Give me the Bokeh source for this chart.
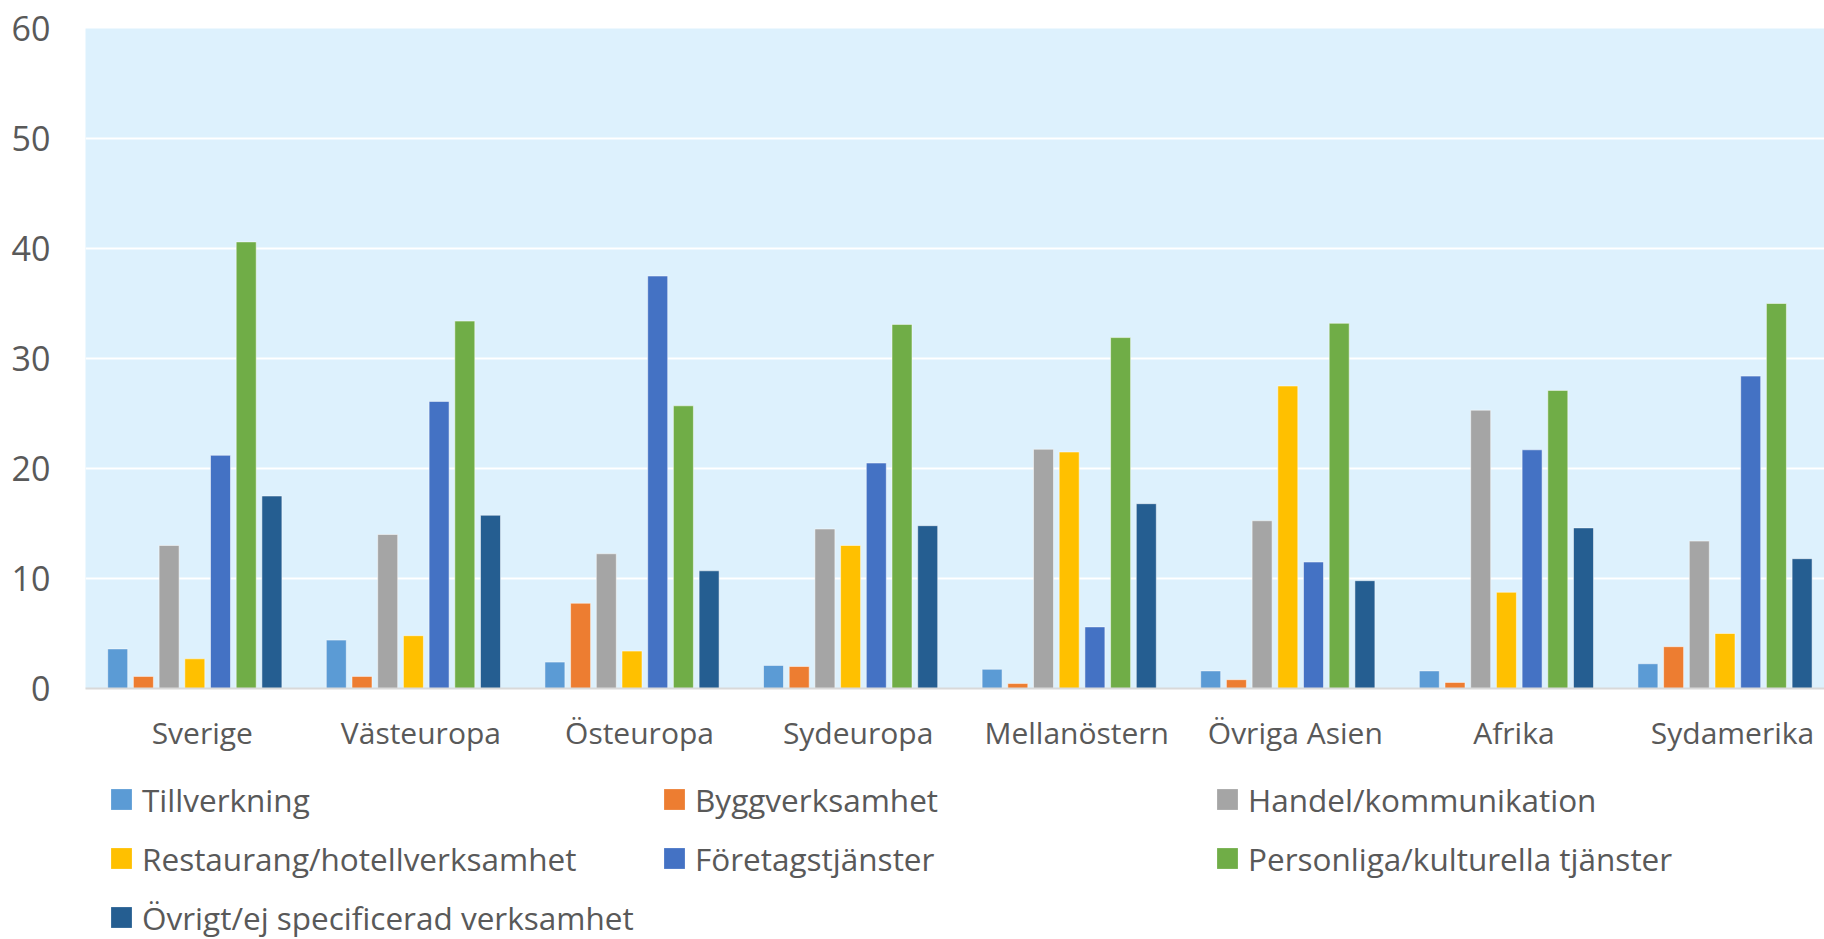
import numpy as np
from bokeh.plotting import figure
from bokeh.layouts import column
from bokeh.models import Range1d, FixedTicker, Legend, LegendItem, ColumnDataSource
from bokeh.embed import file_html
from bokeh.resources import INLINE

# ---------------- data ----------------
categories = ["Sverige", "Västeuropa", "Östeuropa", "Sydeuropa",
              "Mellanöstern", "Övriga Asien", "Afrika", "Sydamerika"]

series_names = ["Tillverkning", "Byggverksamhet", "Handel/kommunikation",
                "Restaurang/hotellverksamhet", "Företagstjänster",
                "Personliga/kulturella tjänster", "Övrigt/ej specificerad verksamhet"]

tillverkning = [3.6, 4.4, 2.4, 2.1, 1.75, 1.6, 1.6, 2.25]
byggverksamhet = [1.1, 1.1, 7.75, 2.0, 0.45, 0.8, 0.55, 3.8]
handel = [13.0, 14.0, 12.25, 14.5, 21.75, 15.25, 25.3, 13.4]
restaurang = [2.7, 4.8, 3.4, 13.0, 21.5, 27.5, 8.75, 5.0]
foretag = [21.2, 26.1, 37.5, 20.5, 5.6, 11.5, 21.7, 28.4]
personliga = [40.6, 33.4, 25.7, 33.1, 31.9, 33.2, 27.1, 35.0]
ovrigt = [17.5, 15.75, 10.7, 14.8, 16.8, 9.8, 14.6, 11.8]

y_ticks = [0, 10, 20, 30, 40, 50, 60]

colors = ["#5B9BD5", "#ED7D31", "#A5A5A5", "#FFC000", "#4472C4", "#70AD47", "#255E91"]

# ---------------- layout ----------------
W = 1824
HA, HB = 775, 164
LEFT, TOP = 85, 28
FRAME_H = 660
frame_w = W - LEFT
band_px = 218.6
bar_px = 20.0
step_px = 25.7
label_shift_px = 7.5

FONT = "Open Sans"
TXT = "#595959"

p = figure(width=W, height=HA, output_backend="svg", toolbar_location=None,
           x_range=Range1d(0, frame_w / band_px), y_range=Range1d(0, 60),
           min_border_left=LEFT, min_border_top=TOP,
           min_border_bottom=HA - TOP - FRAME_H, min_border_right=0)
p.background_fill_color = "#DDF1FD"
p.border_fill_color = "white"
p.outline_line_color = None

all_series = [tillverkning, byggverksamhet, handel, restaurang, foretag, personliga, ovrigt]
idx = np.arange(len(categories))
sources = []
for j, (name, vals) in enumerate(zip(series_names, all_series)):
    off = (j - (len(series_names) - 1) / 2) * step_px / band_px
    src = ColumnDataSource(dict(x=idx + 0.5 + off, top=vals))
    sources.append(src)
    p.vbar(x="x", top="top", width=bar_px / band_px, source=src,
           fill_color=colors[j], line_color="white", line_alpha=0.5, line_width=1)

# grid
p.xgrid.visible = False
p.ygrid.grid_line_color = "white"
p.ygrid.grid_line_width = 2
p.ygrid.ticker = FixedTicker(ticks=y_ticks)

# y axis
p.yaxis.ticker = FixedTicker(ticks=y_ticks)
p.yaxis.axis_line_color = None
p.yaxis.major_tick_line_color = None
p.yaxis.minor_tick_line_color = None
p.yaxis.major_tick_out = 0
p.yaxis.major_tick_in = 0
p.yaxis.major_label_standoff = 35
p.yaxis.major_label_text_font = FONT
p.yaxis.major_label_text_font_size = "34px"
p.yaxis.major_label_text_color = TXT

# x axis (labels sit slightly right of the bar-group centres, as in the original)
xt = [i + 0.5 + label_shift_px / band_px for i in range(len(categories))]
p.xaxis.ticker = FixedTicker(ticks=xt)
p.xaxis.major_label_overrides = {t: c for t, c in zip(xt, categories)}
p.xaxis.axis_line_color = "#D9D9D9"
p.xaxis.axis_line_width = 2
p.xaxis.major_tick_line_color = None
p.xaxis.minor_tick_line_color = None
p.xaxis.major_tick_out = 0
p.xaxis.major_tick_in = 0
p.xaxis.major_label_standoff = 23
p.xaxis.major_label_text_font = FONT
p.xaxis.major_label_text_font_size = "30px"
p.xaxis.major_label_text_color = TXT

# ---------------- legend figure ----------------
q = figure(width=W, height=HB, output_backend="svg", toolbar_location=None,
           x_range=Range1d(0, 1), y_range=Range1d(0, 1),
           x_axis_type=None, y_axis_type=None,
           min_border_left=LEFT, min_border_right=0, min_border_top=0, min_border_bottom=0)
q.outline_line_color = None
q.xgrid.visible = False
q.ygrid.visible = False
q.background_fill_color = "white"
q.border_fill_color = "white"

proxies = []
for j, name in enumerate(series_names):
    r = q.vbar(x="x", top="top", width=0.01, source=sources[j], fill_color=colors[j],
               line_color=None, visible=False)
    proxies.append(LegendItem(label=name, renderers=[r]))

LAB_H, SPACING = 44, 15
ROW1_TOP = 2
GLYPH = 26
col_x = [108, 661, 1214]
for c in range(3):
    its = proxies[c::3]
    n = len(its)
    leg_h = n * LAB_H + (n - 1) * SPACING
    leg = Legend(items=its, location=(col_x[c] - LEFT, HB - ROW1_TOP - leg_h),
                 margin=0, padding=0, glyph_width=GLYPH, glyph_height=GLYPH,
                 label_standoff=8, label_height=LAB_H, spacing=SPACING,
                 label_text_font=FONT, label_text_font_size="31.5px",
                 label_text_color=TXT, border_line_color=None,
                 background_fill_alpha=0, inactive_fill_alpha=0,
                 click_policy="none")
    q.add_layout(leg, "center")

layout = column(p, q, spacing=0)
open("out.html", "w").write(file_html(layout, INLINE))
